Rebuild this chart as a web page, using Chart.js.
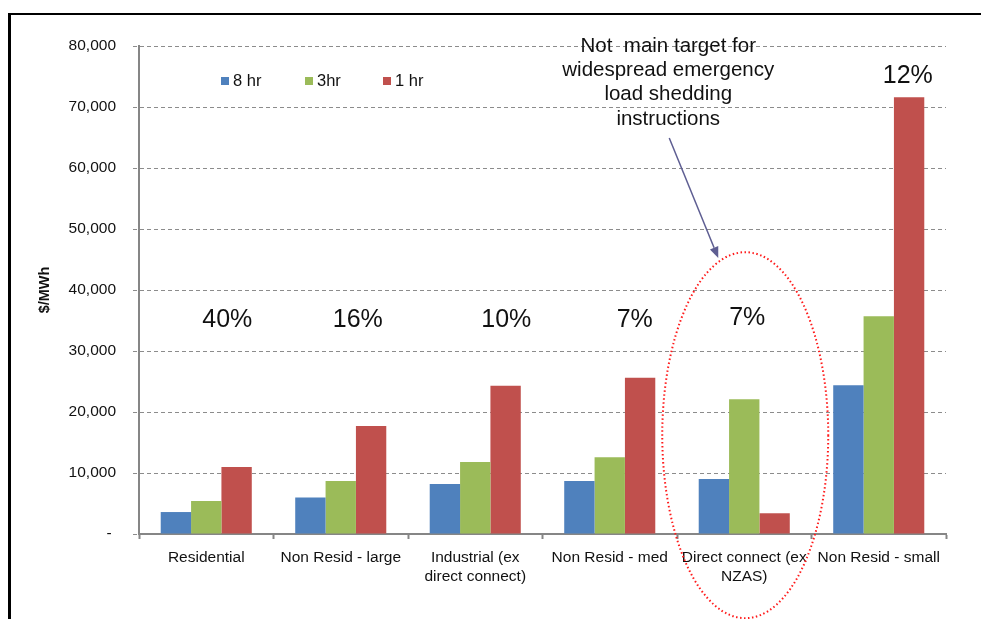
<!DOCTYPE html>
<html>
<head>
<meta charset="utf-8">
<script src="https://cdn.jsdelivr.net/npm/chart.js@4.4.1/dist/chart.umd.min.js"></script>
<style>
  html, body { margin: 0; padding: 0; background: #fff; }
  #wrap { position: relative; width: 981px; height: 619px; overflow: hidden; }
  #frame { position: absolute; left: 8px; top: 13px; width: 1000px; height: 700px;
           border-left: 3px solid #000; border-top: 2px solid #000; box-sizing: border-box; pointer-events: none; }
  canvas { position: absolute; left: 0; top: 0; }
</style>
</head>
<body>
<div id="wrap">
  <canvas id="c" width="981" height="619"></canvas>
  <div id="frame"></div>
</div>
<script>
// ---- data ----
const categories = [
  'Residential',
  'Non Resid - large',
  ['Industrial (ex', 'direct connect)'],
  'Non Resid - med',
  ['Direct connect (ex', 'NZAS)'],
  'Non Resid - small'
];
const seriesNames = ['8 hr', '3hr', '1 hr'];
const values8hr = [3600, 6000, 8200, 8700, 9000, 24400];
const values3hr = [5400, 8700, 11800, 12600, 22100, 35700];
const values1hr = [11000, 17700, 24300, 25600, 3400, 71600];
const shares = ['40%', '16%', '10%', '7%', '7%', '12%'];
const yTicks = [0, 10000, 20000, 30000, 40000, 50000, 60000, 70000, 80000];
const calloutLines = ['Not  main target for', 'widespread emergency', 'load shedding', 'instructions'];

const colors = ['#4F81BD', '#9BBB59', '#C0504D'];
const FONT = "'Liberation Sans', Arial, sans-serif";

// annotation placement (pixel offsets from category centres / share label heights)
const shareOffsetsX = [21, 17, 31, 25, 3, 29];
const shareYValues = [35100, 35100, 35100, 35100, 35400, 75100];

const annotations = {
  id: 'annotations',
  afterDraw(chart) {
    const ctx = chart.ctx;
    const xs = chart.scales.x, ys = chart.scales.y;
    ctx.save();
    // share labels
    ctx.fillStyle = '#111';
    ctx.font = '25px ' + FONT;
    ctx.textAlign = 'center';
    ctx.textBaseline = 'middle';
    shares.forEach((s, i) => {
      ctx.fillText(s, xs.getPixelForValue(i) + shareOffsetsX[i], ys.getPixelForValue(shareYValues[i]));
    });
    // legend
    ctx.font = '16.5px ' + FONT;
    ctx.textAlign = 'left';
    const legX = [221, 305, 383];
    const legY = 81;
    seriesNames.forEach((n, i) => {
      ctx.fillStyle = colors[i];
      ctx.fillRect(legX[i], legY - 4, 8, 8);
      ctx.fillStyle = '#111';
      ctx.fillText(n, legX[i] + 12, legY);
    });
    // callout text
    const cx4 = xs.getPixelForValue(4);
    ctx.font = '20.5px ' + FONT;
    ctx.textAlign = 'center';
    calloutLines.forEach((l, i) => {
      ctx.fillText(l, cx4 - 76, 46 + i * 24.3);
    });
    // arrow
    const ax0 = cx4 - 75, ay0 = 138, ax1 = cx4 - 26, ay1 = 258;
    ctx.strokeStyle = '#5E5E92';
    ctx.fillStyle = '#5E5E92';
    ctx.lineWidth = 1.5;
    const ang = Math.atan2(ay1 - ay0, ax1 - ax0);
    const hl = 11, hw = 4.5;
    const bx = ax1 - hl * Math.cos(ang), by = ay1 - hl * Math.sin(ang);
    ctx.beginPath(); ctx.moveTo(ax0, ay0); ctx.lineTo(bx, by); ctx.stroke();
    ctx.beginPath();
    ctx.moveTo(ax1, ay1);
    ctx.lineTo(bx + hw * Math.sin(ang), by - hw * Math.cos(ang));
    ctx.lineTo(bx - hw * Math.sin(ang), by + hw * Math.cos(ang));
    ctx.closePath(); ctx.fill();
    // dotted ellipse
    const ecx = cx4 + 1;
    const ecy = ys.getPixelForValue(16200);
    const ery = ys.getPixelForValue(0) - ys.getPixelForValue(30000);
    ctx.strokeStyle = '#FF1A1A';
    ctx.lineWidth = 2;
    ctx.setLineDash([1.5, 2.5]);
    ctx.beginPath();
    ctx.ellipse(ecx, ecy, 83, ery, 0, 0, Math.PI * 2);
    ctx.stroke();
    ctx.restore();
  }
};

new Chart(document.getElementById('c'), {
  type: 'bar',
  data: {
    labels: categories,
    datasets: [
      { label: seriesNames[0], data: values8hr, backgroundColor: colors[0] },
      { label: seriesNames[1], data: values3hr, backgroundColor: colors[1] },
      { label: seriesNames[2], data: values1hr, backgroundColor: colors[2] }
    ]
  },
  options: {
    responsive: false,
    animation: false,
    devicePixelRatio: 1,
    layout: { padding: { left: 0, right: 35, top: 46, bottom: 0 } },
    plugins: { legend: { display: false }, tooltip: { enabled: false } },
    datasets: { bar: { categoryPercentage: 0.677, barPercentage: 1.0 } },
    scales: {
      x: {
        grid: { drawOnChartArea: false, drawTicks: true, tickLength: 5, tickColor: '#868686', tickWidth: 2, offset: true },
        border: { color: '#868686', width: 2 },
        ticks: { color: '#111', font: { family: FONT, size: 15.5, lineHeight: 1.25 }, padding: 9, maxRotation: 0, autoSkip: false },
        afterFit(s) { s.height = 85; }
      },
      y: {
        min: 0, max: 80000,
        afterBuildTicks(s) { s.ticks = yTicks.map(v => ({ value: v })); },
        grid: { color: '#8C8C8C', lineWidth: 1, tickLength: 6, tickBorderDash: [4, 3] },
        border: { color: '#868686', width: 2, dash: [4, 3] },
        ticks: {
          color: '#111', font: { family: FONT, size: 15.5 }, padding: 17,
          callback: v => v === 0 ? '- ' : v.toLocaleString('en-US')
        },
        title: { display: true, text: '$/MWh', color: '#111', font: { family: FONT, size: 14.5, weight: 'bold' }, padding: { top: 36, bottom: 0 } },
        afterFit(s) { s.width = 139; }
      }
    }
  },
  plugins: [annotations]
});
</script>
</body>
</html>
